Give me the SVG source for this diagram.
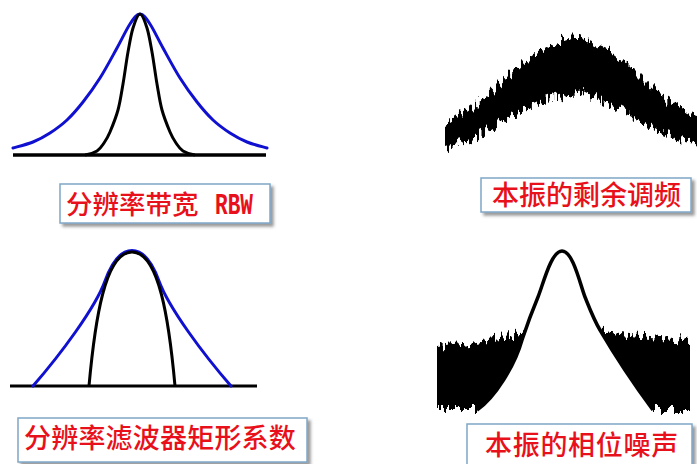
<svg xmlns="http://www.w3.org/2000/svg" width="697" height="464" viewBox="0 0 697 464">
  <style>
    .blue { fill: none; stroke: #1010d0; stroke-width: 3; stroke-linecap: round; stroke-linejoin: round; }
    .blk { fill: none; stroke: #000; stroke-width: 3; stroke-linecap: butt; stroke-linejoin: round; }
    .base { fill: none; stroke: #000; stroke-width: 3.5; }
    .box { fill: #fff; stroke: #7fa7c6; stroke-width: 1.5; }
    .lbl { font-family: "Noto Sans CJK SC", "Noto Sans CJK JP", sans-serif; font-size: 27px; font-weight: 500; fill: #e8101a; }
    .lat { font-family: "Liberation Mono", monospace; font-weight: bold; font-size: 30px; fill: #e8101a; }
  </style>
  <defs>
    <filter id="sh" x="-5%" y="-25%" width="115%" height="170%">
      <feDropShadow dx="3" dy="3" stdDeviation="1.6" flood-color="#4a4a4a" flood-opacity="0.55"/>
    </filter>
    <filter id="jag" filterUnits="userSpaceOnUse" x="420" y="0" width="277" height="464" color-interpolation-filters="sRGB">
      <feTurbulence type="fractalNoise" baseFrequency="0.28 0.06" numOctaves="2" seed="5" result="t"/>
      <feColorMatrix in="t" type="matrix" values="0 0 0 0 0.5  0 2 0 0 -0.5  0 0 0 0 0  0 0 0 0 1" result="m"/>
      <feDisplacementMap in="SourceGraphic" in2="m" scale="13" xChannelSelector="R" yChannelSelector="G"/>
    </filter>
    <clipPath id="outsideBell">
      <path clip-rule="evenodd" d="M400,300 H697 V440 H400 Z M477,410 C495,398 515,365 522,340 C526,328 533,309 538,297 C543,285 551,251 562,251 C573,251 580,284 585,297 C591,312 594,320 600,330 C610,347 625,372 653,410 L653,430 L477,430 Z"/>
    </clipPath>
  </defs>
  <rect width="697" height="464" fill="#fff"/>

  <!-- Top-left: RBW -->
  <g id="plot-rbw">
    <path class="blue" d="M13,148 C16.3,147 26.8,144.5 33,142 C39.2,139.5 44.3,136.7 50,133 C55.7,129.3 61.5,125.2 67,120 C72.5,114.8 77.5,109 83,102 C88.5,95 94.3,87 100,78 C105.7,69 112,57 117,48 C122,39 126.2,29.7 130,24 C133.8,18.3 136.7,14 140,14 C143.3,14 146.2,18.3 150,24 C153.8,29.7 158,39 163,48 C168,57 174.3,69 180,78 C185.7,87 191.5,95 197,102 C202.5,109 207.5,114.8 213,120 C218.5,125.2 224.3,129.3 230,133 C235.7,136.7 240.8,139.5 247,142 C253.2,144.5 263.7,147 267,148"/>
    <path class="blk" d="M85,155 C91.2,154.3 93.8,153 97,151 C100.2,149 101.8,146.2 104,143 C106.2,139.8 107.7,137.5 110,132 C112.3,126.5 115.8,118 118,110 C120.2,102 121.3,93.7 123,84 C124.7,74.3 126.3,61.3 128,52 C129.7,42.7 131,34.3 133,28 C135,21.7 137.7,14 140,14 C142.3,14 145,21.7 147,28 C149,34.3 150.3,42.7 152,52 C153.7,61.3 155.3,74.3 157,84 C158.7,93.7 159.8,102 162,110 C164.2,118 167.7,126.5 170,132 C172.3,137.5 173.8,139.8 176,143 C178.2,146.2 179.8,149 183,151 C186.2,153 188.8,154.3 195,155"/>
    <line class="base" x1="13" y1="155" x2="266" y2="155"/>
  </g>
  <g id="label-rbw">
    <rect class="box" x="60" y="184" width="210" height="39" filter="url(#sh)"/>
    <text class="lbl" x="66" y="214" style="font-size:26.5px">分辨率带宽</text>
    <text class="lat" x="215" y="214" textLength="38" lengthAdjust="spacingAndGlyphs">RBW</text>
  </g>

  <!-- Top-right: residual FM -->
  <g id="plot-residual-fm" filter="url(#jag)">
    <polygon fill="#000" points="445,123 470,108 487,95 507,77 530,57 553,43 567,38 587,40 607,48 627,63 647,83 667,100 687,112 700,116 700,144 680,140 660,132 640,120 620,110 600,100 583,92 567,95 547,100 520,112 493,127 470,140 445,148"/>
  </g>
  <g id="label-residual-fm">
    <rect class="box" x="481" y="178" width="210" height="34" filter="url(#sh)"/>
    <text class="lbl" x="492" y="205">本振的剩余调频</text>
  </g>

  <!-- Bottom-left: shape factor -->
  <g id="plot-shape-factor">
    <line class="base" x1="10" y1="386" x2="257" y2="386" style="stroke-width:3"/>
    <path class="blue" d="M33,386 C60,355 95.25,308 105,281 C111.5,263 120.5,250.5 132,250.5 C143.5,250.5 152.5,263 159,281 C168.75,308 204,355 231,386"/>
    <path class="blk" d="M89,386 C95,320 105,252 132,252 C159,252 169,320 175,386"/>
  </g>
  <g id="label-shape-factor">
    <rect class="box" x="18" y="418" width="289" height="44" filter="url(#sh)"/>
    <text class="lbl" x="24" y="448" style="letter-spacing:0.2px">分辨率滤波器矩形系数</text>
  </g>

  <!-- Bottom-right: phase noise -->
  <g id="plot-phase-noise">
    <g clip-path="url(#outsideBell)">
      <g filter="url(#jag)">
        <polygon fill="#000" points="437,347 470,343 500,338 530,332 530,410 437,410"/>
        <polygon fill="#000" points="588,330 620,334 660,338 690,340 690,410 588,410"/>
      </g>
    </g>
    <path class="blk" style="stroke-width:3.5" d="M477,410 C495,398 515,365 522,340 C526,328 533,309 538,297 C543,285 551,251 562,251 C573,251 580,284 585,297 C591,312 594,320 600,330 C610,347 625,372 653,410"/>
  </g>
  <g id="label-phase-noise">
    <rect class="box" x="467" y="424" width="225" height="46" filter="url(#sh)"/>
    <text class="lbl" x="485" y="455" style="letter-spacing:0.7px">本振的相位噪声</text>
  </g>
</svg>
